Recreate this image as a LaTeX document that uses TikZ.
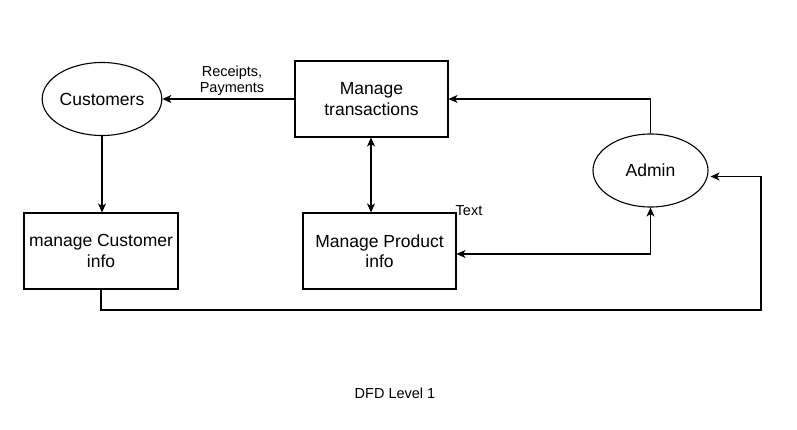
\documentclass[tikz,border=0pt]{standalone}
\usepackage{fontspec}
\setmainfont{Liberation Sans}
\usetikzlibrary{arrows.meta,shapes.geometric}
\begin{document}
\begin{tikzpicture}[x=1pt,y=-1pt,
  proc/.style={draw, line width=1.1pt, rectangle, minimum width=153pt, minimum height=76pt, align=center, inner sep=0pt, font=\fontsize{17.5}{20.5}\selectfont},
  ent/.style={draw, line width=1.1pt, ellipse, minimum width=113pt, minimum height=73pt, inner sep=0pt, font=\fontsize{17.5}{20.5}\selectfont},
  flow/.style={line width=1.1pt, -{Stealth[length=9pt,width=8pt,inset=2.5pt]}},
  biflow/.style={line width=1.1pt, {Stealth[length=9pt,width=8pt,inset=2.5pt]}-{Stealth[length=9pt,width=8pt,inset=2.5pt]}},
  lbl/.style={align=center, inner sep=0pt, font=\fontsize{14.5}{16.5}\selectfont}]
\fill[white] (0,0) rectangle (797,430);
\useasboundingbox (0,0) rectangle (797,430);

\node[ent] (cust) at (102,99) {Customers};
\node[proc] (trans) at (371.5,99) {Manage\\transactions};
\node[proc, minimum width=154pt] (cinfo) at (101,251) {manage Customer\\info};
\node[proc] (pinfo) at (379.5,251) {Manage Product\\info};
\node[ent, minimum width=115pt] (admin) at (650.5,170.5) {Admin};

\node[lbl] (rp) at (232,81) {Receipts,\\Payments};
\node[lbl] (txt) at (469,211) {Text};
\node[lbl] (title) at (395,393) {DFD Level 1};

\coordinate (loopc) at (761,310);

\draw[flow] (trans.west) -- (cust.east);
\draw[flow] (cust.south) -- (cust.south |- cinfo.north);
\draw[biflow] (trans.south -| 371,0) -- (pinfo.north -| 371,0);
\draw[flow] (admin.north) |- (trans.east);
\draw[biflow] ([yshift=-3pt]pinfo.east) -| (admin.south);
\draw[flow] (cinfo.south) |- (loopc) |- ([yshift=-6pt,xshift=2pt]admin.east);
\end{tikzpicture}
\end{document}
